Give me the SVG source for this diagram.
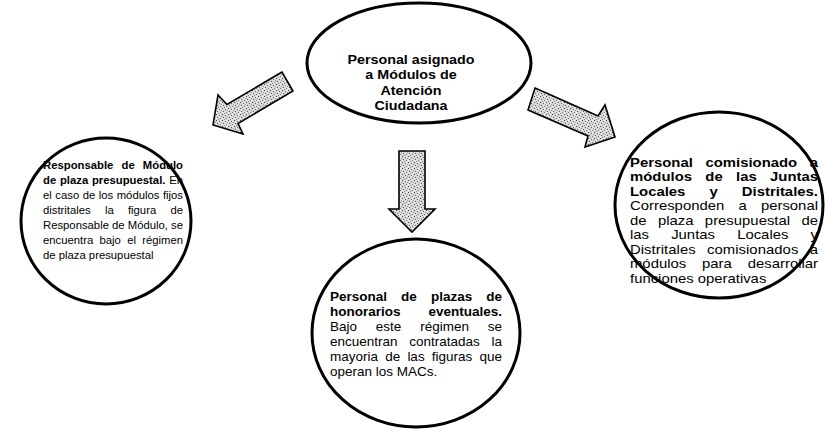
<svg xmlns="http://www.w3.org/2000/svg" width="825" height="431" viewBox="0 0 825 431">
<defs>
<pattern id="stip" width="6" height="6" patternUnits="userSpaceOnUse">
<rect width="6" height="6" fill="#dadada"/>
<rect x="0" y="0" width="1" height="1" fill="#444"/>
<rect x="3" y="1" width="1" height="1" fill="#666"/>
<rect x="1" y="3" width="1" height="1" fill="#555"/>
<rect x="4" y="4" width="1" height="1" fill="#777"/>
<rect x="5" y="2" width="1" height="1" fill="#999"/>
<rect x="2" y="5" width="1" height="1" fill="#888"/>
<rect x="4" y="0" width="1" height="1" fill="#fff"/>
<rect x="0" y="4" width="1" height="1" fill="#fff"/>
</pattern>
<style>
.el{fill:#fff;stroke:#000;stroke-width:3}
.ar{fill:url(#stip);stroke:#000;stroke-width:1.6;stroke-linejoin:miter}
.t{font-family:"Liberation Sans",Arial,Helvetica,sans-serif;fill:#000}
.b{font-weight:bold}
.f1{font-size:11.3px}
.f2{font-size:13px}
.f4{font-size:12px}
.f3{font-size:12.5px}
</style>
</defs>
<rect width="825" height="431" fill="#fff"/>

<g id="connectors">
<polygon class="ar" points="282,72 227,104.5 218,95 213,125 243,134 238,123.5 293,91"/>
<polygon class="ar" points="535,88 598,116 605,105 615,137 585,147 588,136 528,110"/>
<polygon class="ar" points="399,151 425,151 425,209 435,209 412,232 389,209 399,209"/>
</g>

<g id="node-top">
<ellipse class="el" cx="419" cy="63" rx="112" ry="60"/>
<g transform="translate(411,0) scale(1.1,1)">
<text class="t b f2" text-anchor="middle" x="0" y="64">Personal asignado</text>
<text class="t b f2" text-anchor="middle" x="0" y="79.5">a Módulos de</text>
<text class="t b f2" text-anchor="middle" x="0" y="95">Atención</text>
<text class="t b f2" text-anchor="middle" x="0" y="110.5">Ciudadana</text>
</g>
</g>

<g id="node-left">
<ellipse class="el" cx="106" cy="221" rx="85" ry="83"/>
<text class="t b f1" x="43" y="169" word-spacing="5.01" textLength="140" lengthAdjust="spacing">Responsable de Módulo</text>
<text class="t f1" x="43" y="184" word-spacing="0.61" textLength="140" lengthAdjust="spacing"><tspan class="b">de plaza presupuestal.</tspan> En</text>
<text class="t f1" x="43" y="199" word-spacing="0.37" textLength="140" lengthAdjust="spacing">el caso de los módulos fijos</text>
<text class="t f1" x="43" y="214" word-spacing="11.08" textLength="140" lengthAdjust="spacing">distritales la figura de</text>
<text class="t f1" x="43" y="229" textLength="140" lengthAdjust="spacing">Responsable de Módulo, se</text>
<text class="t f1" x="43" y="244" word-spacing="3.12" textLength="140" lengthAdjust="spacing">encuentra bajo el régimen</text>
<text class="t f1" x="43" y="259">de plaza presupuestal</text>
</g>

<g id="node-right">
<ellipse class="el" cx="719" cy="205" rx="104" ry="93"/>
<g transform="translate(630,0) scale(1.24,1)">
<text class="t b f4" x="0" y="167" word-spacing="6.77" textLength="151.6" lengthAdjust="spacing">Personal comisionado a</text>
<text class="t b f4" x="0" y="181.5" word-spacing="7.4" textLength="151.6" lengthAdjust="spacing">módulos de las Juntas</text>
<text class="t b f4" x="0" y="196" word-spacing="16.1" textLength="151.6" lengthAdjust="spacing">Locales y Distritales.</text>
<text class="t f4" x="0" y="210.5" word-spacing="8.1" textLength="151.6" lengthAdjust="spacing">Corresponden a personal</text>
<text class="t f4" x="0" y="225" word-spacing="5.83" textLength="151.6" lengthAdjust="spacing">de plaza presupuestal de</text>
<text class="t f4" x="0" y="239.5" word-spacing="14.5" textLength="151.6" lengthAdjust="spacing">las Juntas Locales y</text>
<text class="t f4" x="0" y="254" word-spacing="5.77" textLength="151.6" lengthAdjust="spacing">Distritales comisionados a</text>
<text class="t f4" x="0" y="268.5" word-spacing="9.46" textLength="151.6" lengthAdjust="spacing">módulos para desarrollar</text>
<text class="t f4" x="0" y="283">funciones operativas</text>
</g>
</g>

<g id="node-bottom">
<ellipse class="el" cx="416" cy="333" rx="104" ry="94"/>
<g transform="translate(330,0) scale(1.08,1)">
<text class="t b f3" x="0" y="301" word-spacing="9.56" textLength="159.3" lengthAdjust="spacing">Personal de plazas de</text>
<text class="t b f3" x="0" y="316" word-spacing="22.4" textLength="159.3" lengthAdjust="spacing">honorarios eventuales.</text>
<text class="t f3" x="0" y="331" word-spacing="13.96" textLength="159.3" lengthAdjust="spacing">Bajo este régimen se</text>
<text class="t f3" x="0" y="346" word-spacing="7.38" textLength="159.3" lengthAdjust="spacing">encuentran contratadas la</text>
<text class="t f3" x="0" y="361" word-spacing="3.18" textLength="159.3" lengthAdjust="spacing">mayoria de las figuras que</text>
<text class="t f3" x="0" y="376">operan los MACs.</text>
</g>
</g>
</svg>
